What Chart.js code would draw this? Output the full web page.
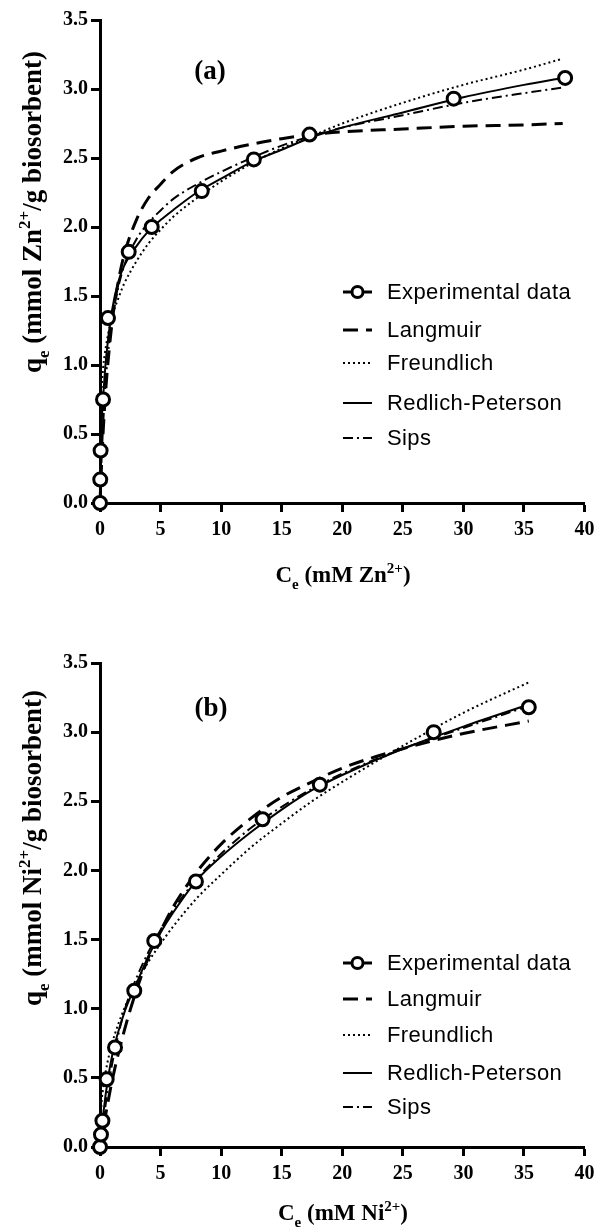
<!DOCTYPE html>
<html>
<head>
<meta charset="utf-8">
<script src="https://cdn.jsdelivr.net/npm/chart.js@4.4.0/dist/chart.umd.min.js"></script>
<style>
  body { margin: 0; background: #fff; }
  .panel { width: 594px; height: 616px; }
  canvas { display: block; }
</style>
</head>
<body>
<div class="panel"><canvas id="chartA" width="594" height="616"></canvas></div>
<div class="panel"><canvas id="chartB" width="594" height="616"></canvas></div>
<script>
// axis ticks shared by both panels
const xTicks = [0, 5, 10, 15, 20, 25, 30, 35, 40];
const yTicks = [0, 0.5, 1, 1.5, 2, 2.5, 3, 3.5];
const seriesNames = ['Experimental data', 'Langmuir', 'Freundlich', 'Redlich-Peterson', 'Sips'];

// (a) Zn2+ isotherm
const expCeZn = [0, 0.02, 0.05, 0.25, 0.66, 2.37, 4.27, 8.4, 12.7, 17.3, 29.2, 38.4];
const expQeZn = [0, 0.17, 0.38, 0.75, 1.34, 1.82, 2.0, 2.26, 2.49, 2.67, 2.93, 3.08];
const fitCeZn = [0, 0.05, 0.1, 0.25, 0.5, 1, 1.5, 2, 3, 4, 5, 6, 8, 10, 12.5, 15, 17.5, 20, 25, 30, 35, 38.2];
const langmuirZn = [0, 0.12, 0.22, 0.50, 0.85, 1.31, 1.60, 1.80, 2.05, 2.21, 2.31, 2.40, 2.50, 2.55, 2.60, 2.64, 2.67, 2.69, 2.71, 2.73, 2.74, 2.75];
const freundlichZn = [0, 0.66, 0.78, 0.97, 1.14, 1.35, 1.48, 1.59, 1.75, 1.88, 1.98, 2.07, 2.21, 2.33, 2.46, 2.57, 2.66, 2.75, 2.90, 3.03, 3.14, 3.22];
const redlichZn = [0, 0.38, 0.52, 0.75, 1.05, 1.40, 1.60, 1.72, 1.86, 1.97, 2.05, 2.12, 2.25, 2.35, 2.47, 2.56, 2.65, 2.72, 2.83, 2.94, 3.03, 3.08];
const sipsZn = [0, 0.12, 0.25, 0.55, 0.92, 1.32, 1.56, 1.72, 1.91, 2.03, 2.12, 2.20, 2.31, 2.40, 2.50, 2.59, 2.66, 2.72, 2.81, 2.90, 2.97, 3.01];

// (b) Ni2+ isotherm
const expCeNi = [0, 0.08, 0.2, 0.55, 1.24, 2.83, 4.48, 7.92, 13.42, 18.15, 27.55, 35.4];
const expQeNi = [0, 0.09, 0.19, 0.49, 0.72, 1.13, 1.49, 1.92, 2.37, 2.62, 3.0, 3.18];
const fitCeNi = [0, 0.1, 0.25, 0.5, 1, 2, 3, 4, 5, 6, 8, 10, 12.5, 15, 17.5, 20, 25, 30, 35.4];
const langmuirNi = [0, 0.05, 0.13, 0.25, 0.48, 0.84, 1.13, 1.37, 1.56, 1.73, 1.99, 2.19, 2.38, 2.53, 2.64, 2.74, 2.88, 2.99, 3.08];
const freundlichNi = [0, 0.28, 0.42, 0.56, 0.75, 1.00, 1.19, 1.34, 1.47, 1.59, 1.80, 1.97, 2.17, 2.34, 2.50, 2.64, 2.90, 3.14, 3.36];
const redlichNi = [0, 0.10, 0.22, 0.40, 0.66, 0.97, 1.18, 1.38, 1.55, 1.69, 1.93, 2.10, 2.28, 2.44, 2.58, 2.69, 2.88, 3.04, 3.20];
const sipsNi = [0, 0.06, 0.16, 0.33, 0.60, 0.98, 1.22, 1.41, 1.57, 1.71, 1.94, 2.12, 2.31, 2.46, 2.59, 2.70, 2.88, 3.03, 3.19];

const serif = '"Liberation Serif", "Times New Roman", serif';
const sans = '"Liberation Sans", Arial, sans-serif';

// line look of each model curve: Langmuir, Freundlich, Redlich-Peterson, Sips
const curveStyles = [
  { width: 3, dash: [15, 8] },
  { width: 2, dash: [2, 3] },
  { width: 2, dash: [] },
  { width: 2, dash: [10, 4, 2, 4] }
];

function pts(xs, ys) {
  return xs.map((x, i) => ({ x: x, y: ys[i] }));
}

function buildDatasets(expCe, expQe, fitCe, curves) {
  const sets = [{
    label: seriesNames[0],
    data: pts(expCe, expQe),
    showLine: false,
    borderColor: '#000',
    pointBackgroundColor: '#fff',
    pointBorderColor: '#000',
    pointBorderWidth: 3,
    pointRadius: 6.5,
    clip: false
  }];
  curves.forEach((ys, i) => {
    sets.push({
      label: seriesNames[i + 1],
      data: pts(fitCe, ys),
      borderColor: '#000',
      borderWidth: curveStyles[i].width,
      borderDash: curveStyles[i].dash,
      borderCapStyle: 'butt',
      cubicInterpolationMode: 'monotone',
      pointRadius: 0,
      fill: false,
      clip: false
    });
  });
  return sets;
}

// text with sub/superscripts, centred on (cx, cy)
function drawRich(ctx, parts, size, cx, cy, angle) {
  const big = 'bold ' + size + 'px ' + serif;
  const small = 'bold ' + Math.round(size * 0.64) + 'px ' + serif;
  ctx.save();
  ctx.translate(cx, cy);
  ctx.rotate(angle);
  ctx.fillStyle = '#000';
  ctx.textBaseline = 'alphabetic';
  ctx.textAlign = 'left';
  let total = 0;
  parts.forEach(p => {
    ctx.font = p[1] ? small : big;
    total += ctx.measureText(p[0]).width;
  });
  let x = -total / 2;
  parts.forEach(p => {
    ctx.font = p[1] ? small : big;
    let dy = 0;
    if (p[1] === 'sub') dy = size * 0.3;
    if (p[1] === 'sup') dy = -size * 0.4;
    ctx.fillText(p[0], x, dy);
    x += ctx.measureText(p[0]).width;
  });
  ctx.restore();
}

function decor(cfg) {
  return {
    id: 'decor',
    afterDraw(chart) {
      const ctx = chart.ctx;
      // panel letter
      ctx.save();
      ctx.font = 'bold 27px ' + serif;
      ctx.fillStyle = '#000';
      ctx.textAlign = 'center';
      ctx.textBaseline = 'middle';
      ctx.fillText(cfg.letter, cfg.letterPos[0], cfg.letterPos[1]);
      ctx.restore();

      drawRich(ctx, cfg.xTitle, 23, cfg.xTitlePos[0], cfg.xTitlePos[1], 0);
      drawRich(ctx, cfg.yTitle, 27, cfg.yTitlePos[0], cfg.yTitlePos[1], -Math.PI / 2);

      // legend
      const x0 = 343, x1 = 372, tx = 387;
      chart.data.datasets.forEach((ds, i) => {
        const y = cfg.legendY[i];
        ctx.save();
        ctx.strokeStyle = '#000';
        if (i === 0) {
          ctx.lineWidth = 3;
          ctx.beginPath();
          ctx.moveTo(x0, y);
          ctx.lineTo(x1, y);
          ctx.stroke();
          ctx.beginPath();
          ctx.arc((x0 + x1) / 2, y, 5.5, 0, Math.PI * 2);
          ctx.fillStyle = '#fff';
          ctx.fill();
          ctx.stroke();
        } else {
          ctx.lineWidth = ds.borderWidth;
          ctx.setLineDash(ds.borderDash);
          ctx.beginPath();
          ctx.moveTo(x0, y);
          ctx.lineTo(x1, y);
          ctx.stroke();
        }
        ctx.setLineDash([]);
        ctx.font = '22px ' + sans;
        ctx.letterSpacing = '0.4px';
        ctx.fillStyle = '#000';
        ctx.textAlign = 'left';
        ctx.textBaseline = 'middle';
        ctx.fillText(ds.label, tx, y + 1);
        ctx.restore();
      });
    }
  };
}

function makeChart(id, datasets, cfg) {
  const tickFont = { family: serif, size: 20, weight: 'bold' };
  return new Chart(document.getElementById(id), {
    type: 'line',
    data: { datasets: datasets },
    options: {
      responsive: false,
      devicePixelRatio: 1,
      animation: false,
      layout: { padding: { top: cfg.top, right: 9, left: 0, bottom: 0 } },
      plugins: { legend: { display: false }, tooltip: { enabled: false } },
      scales: {
        x: {
          type: 'linear',
          min: 0,
          max: 40,
          afterBuildTicks: s => { s.ticks = xTicks.map(v => ({ value: v })); },
          ticks: { color: '#000', font: tickFont, padding: 6, maxRotation: 0, autoSkip: false },
          grid: { drawOnChartArea: false, drawTicks: true, tickLength: 9, tickWidth: 3, tickColor: '#000' },
          border: { display: true, width: 3, color: '#000' },
          afterFit: s => { s.height = cfg.xHeight; s.paddingLeft = 0; s.paddingRight = 0; }
        },
        y: {
          type: 'linear',
          min: 0,
          max: 3.5,
          afterBuildTicks: s => { s.ticks = yTicks.map(v => ({ value: v })); },
          ticks: { color: '#000', font: tickFont, padding: 3, callback: v => v.toFixed(1) },
          grid: { drawOnChartArea: false, drawTicks: true, tickLength: 9, tickWidth: 3, tickColor: '#000' },
          border: { display: true, width: 3, color: '#000' },
          afterFit: s => { s.width = 100; s.paddingTop = 0; s.paddingBottom = 0; }
        }
      }
    },
    plugins: [decor(cfg)]
  });
}

makeChart('chartA',
  buildDatasets(expCeZn, expQeZn, fitCeZn, [langmuirZn, freundlichZn, redlichZn, sipsZn]),
  {
    top: 20, xHeight: 113,
    letter: '(a)', letterPos: [210, 72],
    xTitle: [['C', ''], ['e', 'sub'], [' (mM Zn', ''], ['2+', 'sup'], [')', '']],
    xTitlePos: [343, 582],
    yTitle: [['q', ''], ['e', 'sub'], [' (mmol Zn', ''], ['2+', 'sup'], ['/g biosorbent)', '']],
    yTitlePos: [41, 212],
    legendY: [292, 330, 363, 403, 438]
  });

makeChart('chartB',
  buildDatasets(expCeNi, expQeNi, fitCeNi, [langmuirNi, freundlichNi, redlichNi, sipsNi]),
  {
    top: 47, xHeight: 85,
    letter: '(b)', letterPos: [211, 93],
    xTitle: [['C', ''], ['e', 'sub'], [' (mM Ni', ''], ['2+', 'sup'], [')', '']],
    xTitlePos: [343, 604],
    yTitle: [['q', ''], ['e', 'sub'], [' (mmol Ni', ''], ['2+', 'sup'], ['/g biosorbent)', '']],
    yTitlePos: [41, 232],
    legendY: [347, 383, 419, 457, 491]
  });
</script>
</body>
</html>
